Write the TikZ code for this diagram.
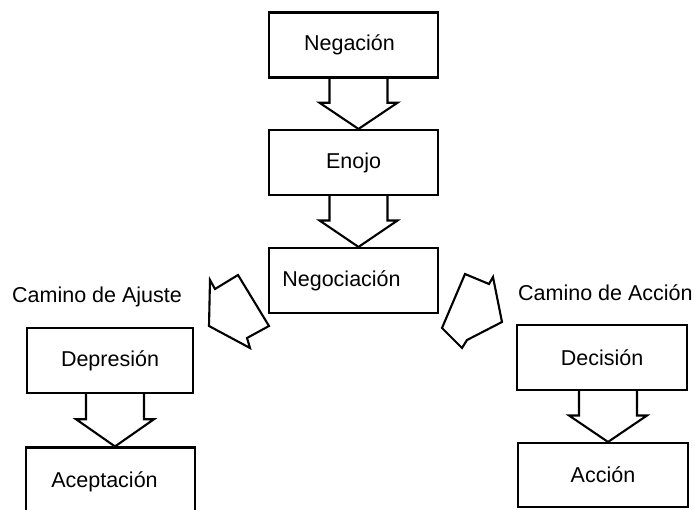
\documentclass[tikz,border=0pt]{standalone}
\usepackage{fontspec}
\setmainfont{Liberation Sans}
\usetikzlibrary{calc}

\tikzset{
  stage/.style={draw, line width=2.1pt, minimum width=169pt, minimum height=65pt,
                inner sep=0pt, font=\fontsize{21.5}{25}\selectfont},
  caption/.style={inner sep=0pt, font=\fontsize{21.5}{25}\selectfont},
  blockarr/.style={draw, line width=2.1pt, line join=miter},
}

% block arrow hanging from the bottom of box #1 down to the top of box #2,
% shifted horizontally by #3
\newcommand{\blockarrow}[3]{%
  \draw[blockarr] let \p1=($(#1.south)+(#3,0)$), \p2=(#2.north),
        \n1={\y1-0.48*(\y1-\y2)} in
    (\x1-29pt,\y1) -- (\x1-29pt,\n1) -- (\x1-39pt,\n1) -- (\x1,\y2)
    -- (\x1+39pt,\n1) -- (\x1+29pt,\n1) -- (\x1+29pt,\y1);}

\begin{document}
\begin{tikzpicture}[x=1pt,y=-1pt]
  \clip (0,0) rectangle (695,510);

  % central column
  \node[stage, label={[caption,xshift=-4pt]center:Negación}] (neg) at (353.5,45) {};
  \node[stage] (enojo) at (353.5,162.5) {Enojo};
  \node[stage, label={[caption,xshift=-12pt]center:Negociación}] (nego) at (353.5,280.5) {};

  % left branch
  \node[stage, minimum width=166pt] (dep) at (110,360.5) {Depresión};
  \node[stage, label={[caption,xshift=-6pt,yshift=-2pt]center:Aceptación}] (acep) at (110.5,480) {};

  % right branch
  \node[stage, minimum width=170pt] (dec) at (602,357.5) {Decisión};
  \node[stage, minimum width=170pt, minimum height=64pt] (acc) at (603,475) {Acción};

  % branch captions
  \node[caption, anchor=base west] (ajuste) at (12,302.5) {Camino de Ajuste};
  \node[caption, anchor=base west] (accion) at (518,300.5) {Camino de Acción};

  % straight block arrows
  \blockarrow{neg}{enojo}{5}
  \blockarrow{enojo}{nego}{5}
  \blockarrow{dep}{acep}{5}
  \blockarrow{dec}{acc}{6}

  % tilted block arrows leaving the negotiation box
  \draw[blockarr] (210,280) -- (215,289) -- (238,275) -- (269,326) -- (247,338)
                  -- (250,348) -- (209,326) -- cycle;
  \draw[blockarr] (465,274) -- (489,284) -- (493,277) -- (502,322) -- (467,340)
                  -- (462,348) -- (442,328) -- cycle;
\end{tikzpicture}
\end{document}
